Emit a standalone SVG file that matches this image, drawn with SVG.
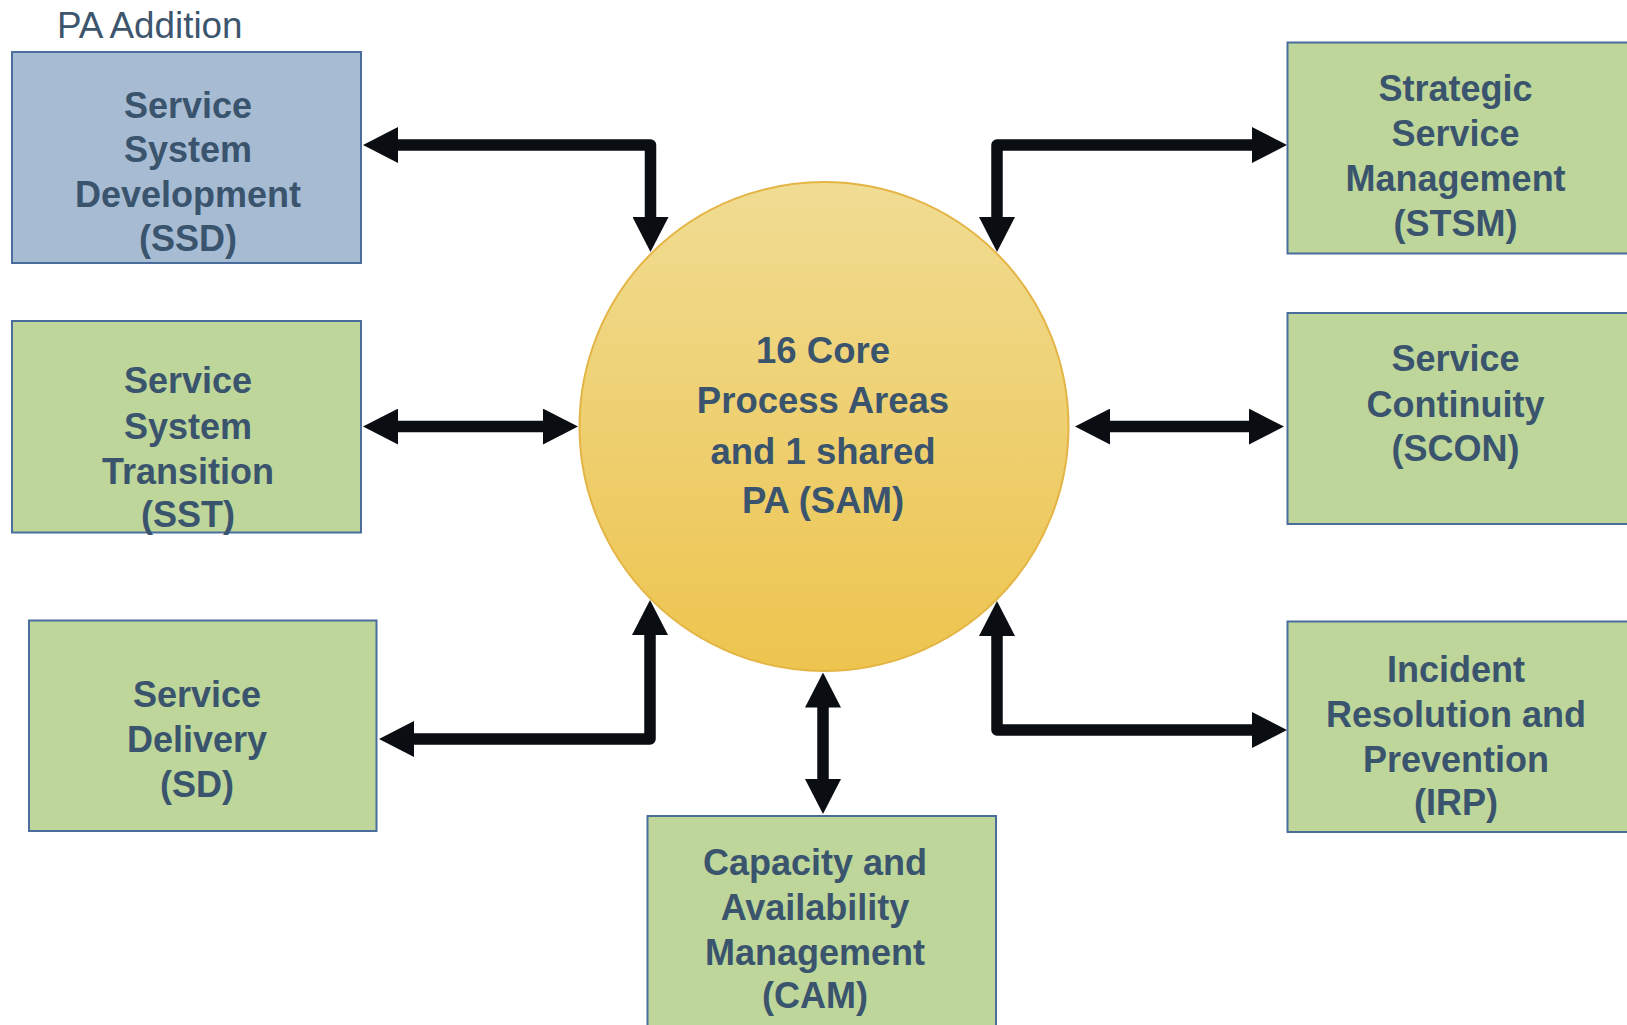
<svg xmlns="http://www.w3.org/2000/svg" width="1627" height="1025" viewBox="0 0 1627 1025">
  <defs>
    <linearGradient id="coreFill" x1="0" y1="0" x2="0" y2="1">
      <stop offset="0" stop-color="#f0dc93"/>
      <stop offset="1" stop-color="#edc44e"/>
    </linearGradient>
    <marker id="head" viewBox="0 0 35 36" refX="1" refY="18" markerWidth="35" markerHeight="36" markerUnits="userSpaceOnUse" orient="auto-start-reverse">
      <path d="M0,0 L35,18 L0,36 Z" fill="#0a0d12"/>
    </marker>
  </defs>
  <style>
    .box { fill: #bed69a; stroke: #4a6d9e; stroke-width: 2; }
    .box.blue { fill: #a7bcd3; }
    .lbl { font-family: "Liberation Sans", Arial, sans-serif; font-weight: bold; font-size: 36px; fill: #3a546e; text-anchor: middle; }
    .core { font-size: 36.5px; }
    .caption { font-family: "Liberation Sans", Arial, sans-serif; font-size: 36.8px; fill: #3d566e; }
    .link { fill: none; stroke: #0a0d12; stroke-width: 11.5; stroke-linejoin: round; marker-start: url(#head); marker-end: url(#head); }
  </style>

  <rect width="1627" height="1025" fill="#ffffff"/>

  <text class="caption" x="57" y="37.5">PA Addition</text>

  <!-- connectors -->
  <g id="connectors">
    <path class="link" d="M397,145 H650.5 V218"/>
    <path class="link" d="M397,426.6 H544"/>
    <path class="link" d="M413,739 H650 V634"/>
    <path class="link" d="M823,706.5 V780"/>
    <path class="link" d="M997,218 V145 H1253"/>
    <path class="link" d="M1109,426.6 H1250"/>
    <path class="link" d="M997,635 V730 H1253"/>
  </g>

  <!-- central process-area circle -->
  <g id="core">
    <circle cx="824" cy="426.5" r="244.5" fill="url(#coreFill)" stroke="#e4b444" stroke-width="2"/>
    <text class="lbl core" x="823" y="362.7">16 Core</text>
    <text class="lbl core" x="823" y="412.7">Process Areas</text>
    <text class="lbl core" x="823" y="464.3">and 1 shared</text>
    <text class="lbl core" x="823" y="513.3">PA (SAM)</text>
  </g>

  <g id="ssd">
    <rect class="box blue" x="12" y="52" width="349" height="211"/>
    <text class="lbl" x="188" y="118">Service</text>
    <text class="lbl" x="188" y="162">System</text>
    <text class="lbl" x="188" y="206.5">Development</text>
    <text class="lbl" x="188" y="250.5">(SSD)</text>
  </g>

  <g id="sst">
    <rect class="box" x="12" y="321" width="349" height="211.5"/>
    <text class="lbl" x="188" y="393">Service</text>
    <text class="lbl" x="188" y="438.5">System</text>
    <text class="lbl" x="188" y="483.7">Transition</text>
    <text class="lbl" x="188" y="526.6">(SST)</text>
  </g>

  <g id="sd">
    <rect class="box" x="29" y="620.5" width="347.5" height="210.5"/>
    <text class="lbl" x="197" y="706.5">Service</text>
    <text class="lbl" x="197" y="751.5">Delivery</text>
    <text class="lbl" x="197" y="797">(SD)</text>
  </g>

  <g id="cam">
    <rect class="box" x="647.5" y="816" width="348.5" height="220"/>
    <text class="lbl" x="815" y="874.7">Capacity and</text>
    <text class="lbl" x="815" y="919.6">Availability</text>
    <text class="lbl" x="815" y="964.6">Management</text>
    <text class="lbl" x="815" y="1008">(CAM)</text>
  </g>

  <g id="stsm">
    <rect class="box" x="1287.5" y="42.5" width="345" height="211"/>
    <text class="lbl" x="1455.6" y="101">Strategic</text>
    <text class="lbl" x="1455.6" y="146.4">Service</text>
    <text class="lbl" x="1455.6" y="191">Management</text>
    <text class="lbl" x="1455.6" y="235.6">(STSM)</text>
  </g>

  <g id="scon">
    <rect class="box" x="1287.5" y="313" width="345" height="211"/>
    <text class="lbl" x="1455.6" y="371.3">Service</text>
    <text class="lbl" x="1455.6" y="417">Continuity</text>
    <text class="lbl" x="1455.6" y="460.5">(SCON)</text>
  </g>

  <g id="irp">
    <rect class="box" x="1287.5" y="621.5" width="345" height="210.5"/>
    <text class="lbl" x="1456" y="681.5">Incident</text>
    <text class="lbl" x="1456" y="726.5">Resolution and</text>
    <text class="lbl" x="1456" y="771.5">Prevention</text>
    <text class="lbl" x="1456" y="815">(IRP)</text>
  </g>
</svg>
